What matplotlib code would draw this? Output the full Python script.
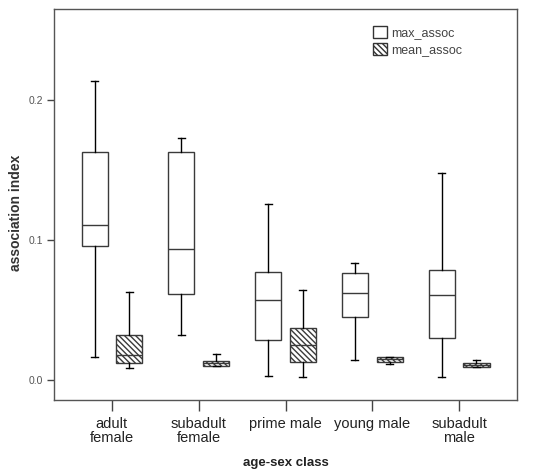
import matplotlib
matplotlib.use("Agg")
import matplotlib.pyplot as plt
from matplotlib.patches import Patch

plt.rcParams["font.family"] = ["Liberation Sans", "DejaVu Sans"]
plt.rcParams["hatch.linewidth"] = 1.0

# Data
categories = ["adult\nfemale", "subadult\nfemale", "prime male", "young male", "subadult\nmale"]

max_low = [0.0167, 0.032, 0.0029, 0.0145, 0.0021]
max_q1 = [0.096, 0.0614, 0.0286, 0.045, 0.0298]
max_med = [0.111, 0.0936, 0.0569, 0.0619, 0.061]
max_q3 = [0.163, 0.163, 0.0774, 0.0762, 0.0788]
max_high = [0.2135, 0.173, 0.1255, 0.0833, 0.148]

mean_low = [0.0086, 0.0098, 0.0021, 0.0117, 0.0095]
mean_q1 = [0.012, 0.0098, 0.0131, 0.0131, 0.0095]
mean_med = [0.018, 0.012, 0.0248, 0.015, 0.011]
mean_q3 = [0.032, 0.0138, 0.0374, 0.0167, 0.0124]
mean_high = [0.063, 0.0186, 0.0645, 0.0167, 0.0143]


def make_stats(low, q1, med, q3, high):
    stats = []
    for i in range(len(low)):
        stats.append({"whislo": low[i], "q1": q1[i], "med": med[i],
                      "q3": q3[i], "whishi": high[i], "fliers": []})
    return stats


fig = plt.figure(figsize=(5.37, 4.69), dpi=100)
ax = fig.add_axes([0.1006, 0.1471, 0.8622, 0.8337])

pos = list(range(len(categories)))
offset = 0.2
width = 0.3
hatch = "\\\\\\\\\\\\"

box_col = "#3a3a3a"
common = dict(widths=width, patch_artist=True, showfliers=False,
              whiskerprops=dict(color="black", linewidth=1.0),
              capprops=dict(color="black", linewidth=1.0),
              medianprops=dict(color=box_col, linewidth=1.0))

ax.bxp(make_stats(max_low, max_q1, max_med, max_q3, max_high),
       positions=[p - offset for p in pos],
       boxprops=dict(facecolor="white", edgecolor=box_col, linewidth=1.0),
       capwidths=0.08, **common)

ax.bxp(make_stats(mean_low, mean_q1, mean_med, mean_q3, mean_high),
       positions=[p + offset for p in pos],
       boxprops=dict(facecolor="white", edgecolor=box_col, linewidth=1.0,
                     hatch=hatch),
       capwidths=0.08, **common)

ax.set_xlim(-0.667, 4.667)
ax.set_ylim(-0.0143, 0.265)
ax.set_xticks(pos)
ax.set_xticklabels(categories, fontsize=10.5, color="#222222", linespacing=1.0)
ax.set_yticks([0.0, 0.1, 0.2])
ax.set_yticklabels(["0.0", "0.1", "0.2"], fontsize=7.5, color="#555555")
ax.tick_params(axis="x", length=8, width=1.0, color="#444444", pad=4)
ax.tick_params(axis="y", length=5, width=1.0, color="#444444", pad=3)

for s in ax.spines.values():
    s.set_color("#555555")
    s.set_linewidth(1.0)

ax.set_xlabel("age-sex class", fontsize=9.5, fontweight="bold", color="#222222", labelpad=9)
ax.set_ylabel("association index", fontsize=10, fontweight="bold", color="#333333")
ax.yaxis.set_label_coords(-0.066, 0.48)

handles = [Patch(facecolor="white", edgecolor="#333333", label="max_assoc"),
           Patch(facecolor="white", edgecolor="#333333", hatch=hatch, label="mean_assoc")]
ax.legend(handles=handles, loc="upper left", bbox_to_anchor=(0.665, 0.985), frameon=False,
          fontsize=9, handlelength=1.1, handleheight=1.1, handletextpad=0.3,
          labelspacing=0.3, labelcolor="#444444")

fig.savefig("out.png", dpi=100)
